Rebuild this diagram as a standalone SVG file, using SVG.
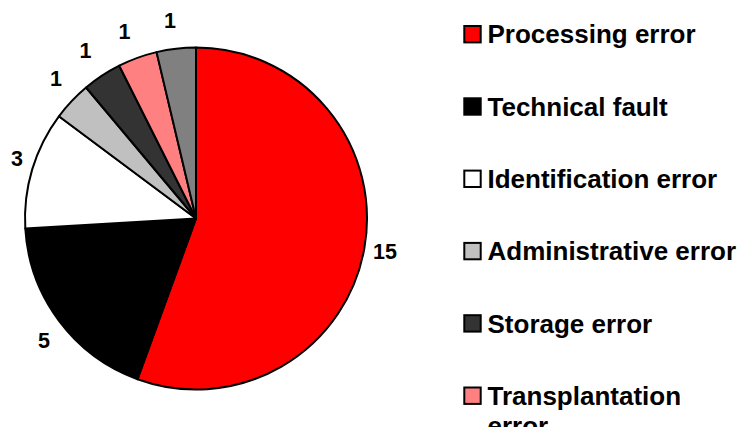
<svg xmlns="http://www.w3.org/2000/svg" width="742" height="427" viewBox="0 0 742 427">
  <style>
    .slice { stroke: #000; stroke-width: 2; stroke-linejoin: round; }
    .val { font-family: "Liberation Sans", Arial, sans-serif; font-weight: bold; font-size: 21.5px; fill: #000; text-anchor: middle; }
    .key { stroke: #000; stroke-width: 2; }
    .lbl { font-family: "Liberation Sans", Arial, sans-serif; font-weight: bold; font-size: 26px; fill: #000; }
  </style>
  <rect width="742" height="427" fill="#fff"/>

  <!-- pie: centre (196,218.5), r 171, 27 cases in total, slices clockwise from 12 o'clock -->
  <g id="pie">
    <path id="slice-processing" class="slice" fill="#ff0000" d="M196,218.5 L196,47.5 A171,171 0 1 1 137.51,379.19 Z"/>
    <path id="slice-technical" class="slice" fill="#000000" d="M196,218.5 L137.51,379.19 A171,171 0 0 1 25.29,228.44 Z"/>
    <path id="slice-identification" class="slice" fill="#ffffff" d="M196,218.5 L25.29,228.44 A171,171 0 0 1 58.90,116.31 Z"/>
    <path id="slice-administrative" class="slice" fill="#c0c0c0" d="M196,218.5 L58.90,116.31 A171,171 0 0 1 86.08,87.50 Z"/>
    <path id="slice-storage" class="slice" fill="#333333" d="M196,218.5 L86.08,87.50 A171,171 0 0 1 119.26,65.69 Z"/>
    <path id="slice-transplantation" class="slice" fill="#ff8080" d="M196,218.5 L119.26,65.69 A171,171 0 0 1 156.56,52.11 Z"/>
    <path id="slice-other" class="slice" fill="#808080" d="M196,218.5 L156.56,52.11 A171,171 0 0 1 196,47.5 Z"/>
  </g>

  <!-- value labels -->
  <g id="values">
    <text class="val" x="385" y="259">15</text>
    <text class="val" x="44" y="348">5</text>
    <text class="val" x="17" y="166">3</text>
    <text class="val" x="56" y="85.5">1</text>
    <text class="val" x="85.5" y="57.5">1</text>
    <text class="val" x="124.5" y="38.5">1</text>
    <text class="val" x="170" y="27.5">1</text>
  </g>

  <!-- legend -->
  <g id="legend">
    <g id="legend-processing">
      <rect class="key" x="464.3" y="26" width="16.4" height="16.4" fill="#ff0000"/>
      <text class="lbl" x="487.5" y="43.3">Processing error</text>
    </g>
    <g id="legend-technical">
      <rect class="key" x="464.3" y="98.3" width="16.4" height="16.4" fill="#000000"/>
      <text class="lbl" x="487.5" y="115.6">Technical fault</text>
    </g>
    <g id="legend-identification">
      <rect class="key" x="464.3" y="170.6" width="16.4" height="16.4" fill="#ffffff"/>
      <text class="lbl" x="487.5" y="187.9">Identification error</text>
    </g>
    <g id="legend-administrative">
      <rect class="key" x="464.3" y="242.9" width="16.4" height="16.4" fill="#c0c0c0"/>
      <text class="lbl" x="487.5" y="260.2">Administrative error</text>
    </g>
    <g id="legend-storage">
      <rect class="key" x="464.3" y="315.2" width="16.4" height="16.4" fill="#333333"/>
      <text class="lbl" x="487.5" y="332.5">Storage error</text>
    </g>
    <g id="legend-transplantation">
      <rect class="key" x="464.3" y="387.5" width="16.4" height="16.4" fill="#ff8080"/>
      <text class="lbl" x="487.5" y="404.8">Transplantation</text>
      <text class="lbl" x="487.5" y="434.5">error</text>
    </g>
  </g>
</svg>
